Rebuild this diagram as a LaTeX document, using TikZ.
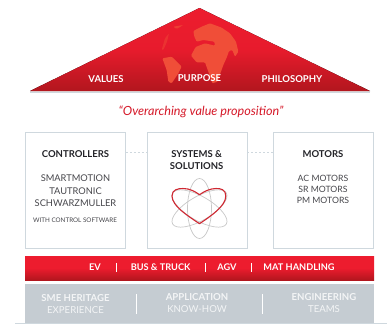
\documentclass[tikz,border=0pt]{standalone}
\usepackage{fontspec}
\setmainfont{Lato}
\definecolor{redtop}{RGB}{237,28,46}
\definecolor{redbot}{RGB}{178,22,30}
\definecolor{frame}{RGB}{207,216,222}
\definecolor{band}{RGB}{197,204,210}
\definecolor{land}{RGB}{240,78,56}
\definecolor{ink}{RGB}{35,35,40}
\definecolor{soft}{RGB}{70,70,75}
\definecolor{atom}{RGB}{200,200,200}
\definecolor{heart}{RGB}{208,40,50}
\tikzset{
 panel/.style={draw=frame,line width=0.9pt,fill=white},
 head/.style={font=\bfseries\fontsize{9.5}{12}\selectfont,text=ink,align=center},
 body/.style={font=\fontsize{9.3}{12.5}\selectfont,text=soft,align=center},
 roof/.style={font=\bfseries\fontsize{9.5}{11}\selectfont,text=white},
 strip/.style={font=\bfseries\fontsize{9.2}{11}\selectfont,text=white},
 base/.style={font=\fontsize{9.6}{12}\selectfont,text=white,text opacity=.8,align=center},
 link/.style={draw=frame,line width=0.5pt,dash pattern=on 2pt off 2pt},
 orbit/.style={draw=atom,line width=0.7pt},
 landmass/.style={fill=land,rounded corners=1pt},
}
\begin{document}
\begin{tikzpicture}[x=1pt,y=-1pt]
\useasboundingbox (0,0) rectangle (389,324);
\fill[top color=redtop,bottom color=redbot,middle color=redtop!90!redbot] (199.5,8) -- (370,91) -- (30,91) -- cycle;
\draw[frame,line width=.5pt] (30,92) -- (370,92);
% globe, traced in a 3x crop whose corner is at (155,15)
\begin{scope}[shift={(155,15)},x=.3333pt,y=-.3333pt]
\fill[landmass,opacity=.7] (55,35) -- (85,30) -- (65,42) -- cycle;
\fill[landmass,opacity=.45] (20,105) -- (30,70) -- (42,55) -- (36,80) -- (25,105) -- cycle;
\fill[landmass] (115,48) -- (140,35) -- (165,25) -- (200,38) -- (225,55) -- (243,80) -- (250,110) -- (240,125) -- (232,105) -- (222,108) -- (215,128) -- (205,150) -- (195,178) -- (188,200) -- (172,205) -- (160,170) -- (150,142) -- (125,142) -- (108,122) -- (122,96) -- (150,85) -- (180,92) -- (178,80) -- (145,75) -- (125,80) -- (118,65) -- cycle;
\fill[landmass] (22,130) -- (50,125) -- (80,155) -- (70,175) -- (50,205) -- (40,200) -- (35,165) -- cycle;
\end{scope}
\node[roof] (values) at (106,79.5) {VALUES};
\node[roof] (purpose) at (199.5,78.5) {PURPOSE};
\node[roof] (philosophy) at (292,79.5) {PHILOSOPHY};
\node[font=\itshape\fontsize{12.6}{14}\selectfont,text=redtop!90!black] (tag) at (201,112) {``Overarching value proposition''};
\node[panel,minimum width=100pt,minimum height=116pt] (ctrl) at (75.5,190) {};
\node[panel,minimum width=100pt,minimum height=116pt] (sys) at (197,190) {};
\node[panel,minimum width=100pt,minimum height=116pt] (mot) at (323.5,190) {};
\draw[link] (ctrl.east |- 0,152) -- (sys.west |- 0,152);
\draw[link] (sys.east |- 0,152) -- (mot.west |- 0,152);
\node[head] (ctrlh) at (75.5,153.7) {CONTROLLERS};
\node[body] (ctrlb) at (75.5,191) {SMARTMOTION\\TAUTRONIC\\SCHWARZMULLER};
\node[font=\fontsize{6.3}{8}\selectfont,text=soft] (ctrln) at (75,220.7) {WITH CONTROL SOFTWARE};
\node[head] (sysh) at (196.7,159.7) {SYSTEMS \&\\SOLUTIONS};
\node[head] (moth) at (323,153.7) {MOTORS};
\node[body,font=\fontsize{8.7}{11}\selectfont] (motb) at (323,189) {AC MOTORS\\SR MOTORS\\PM MOTORS};
\draw[orbit] (199.5,208.5) ellipse [x radius=12pt,y radius=30pt];
\draw[orbit,rotate around={60:(199.5,208.5)}] (199.5,208.5) ellipse [x radius=12pt,y radius=31pt];
\draw[orbit,rotate around={-60:(199.5,208.5)}] (199.5,208.5) ellipse [x radius=12pt,y radius=31pt];
\draw[heart,line width=1.1pt,line join=round] (199.5,223.7) .. controls (188,216) and (172,206) .. (172,196) .. controls (172,189.5) and (178,188.5) .. (183,188.5) .. controls (190,188.5) and (195,191.5) .. (199.5,194.7) .. controls (204,191.5) and (210,188.5) .. (216,188.5) .. controls (221,188.5) and (225.8,189.5) .. (225.8,196) .. controls (225.8,206) and (211,216) .. (199.5,223.7) -- cycle;
\fill[top color=redtop,bottom color=redbot,middle color=redtop] (25,256) rectangle (374,280);
\node[strip] (ev) at (95,267) {EV};
\node[strip] (bus) at (160.6,267.5) {BUS \& TRUCK};
\node[strip] (agv) at (227,267.5) {AGV};
\node[strip] (mat) at (299,267.5) {MAT HANDLING};
\foreach \x in {116.7,205,251} \draw[white,line width=.6pt] (\x,263) -- (\x,272);
\fill[band] (25,284) rectangle (374,323);
\draw[frame,line width=.6pt] (15,323.5) -- (387,323.5);
\node[base] (sme) at (75.5,304) {\textbf{SME HERITAGE}\\EXPERIENCE};
\node[base] (app) at (197,303) {\textbf{APPLICATION}\\KNOW-HOW};
\node[base] (eng) at (324,303) {\textbf{ENGINEERING}\\TEAMS};
\foreach \x in {136.5,262.5} \draw[white,line width=.6pt] (\x,294) -- (\x,314);
\end{tikzpicture}
\end{document}
